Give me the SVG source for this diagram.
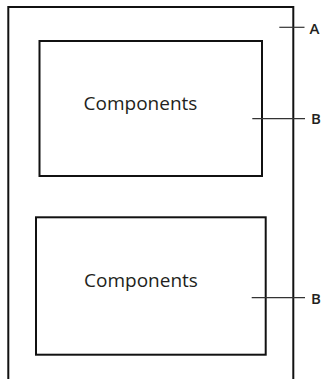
<svg xmlns="http://www.w3.org/2000/svg" width="322" height="379" viewBox="0 0 322 379">
<style>
.box{fill:#fff;stroke:#111;stroke-width:2}
.outer{fill:none;stroke:#111;stroke-width:2}
.lead{stroke:#333;stroke-width:1.2;fill:none}
.lbl{font-family:"Open Sans","Liberation Sans",sans-serif;font-size:19px;fill:#231f20}
.call{font-family:"Open Sans","Liberation Sans",sans-serif;font-size:15px;font-weight:600;fill:#231f20}
</style>
<rect width="322" height="379" fill="#fff"/>
<g id="outer-A">
<path class="outer" d="M8.3,380 V7 H293.3 V380"/>
</g>
<g id="box-B1">
<rect class="box" x="39.5" y="41" width="222.5" height="135"/>
<text class="lbl" x="140.5" y="110" text-anchor="middle">Components</text>
</g>
<g id="box-B2">
<rect class="box" x="36" y="217.3" width="229.7" height="137.4"/>
<text class="lbl" x="141" y="287.3" text-anchor="middle">Components</text>
</g>
<g id="connectors">
<line class="lead" x1="279.3" y1="27.3" x2="304.5" y2="27.3"/>
<line class="lead" x1="252.3" y1="118.7" x2="305" y2="118.7"/>
<line class="lead" x1="251.7" y1="297.7" x2="305" y2="297.7"/>
</g>
<g id="callouts">
<text class="call" x="309.5" y="33.5">A</text>
<text class="call" x="311" y="124.2">B</text>
<text class="call" x="311" y="303.5">B</text>
</g>
</svg>
